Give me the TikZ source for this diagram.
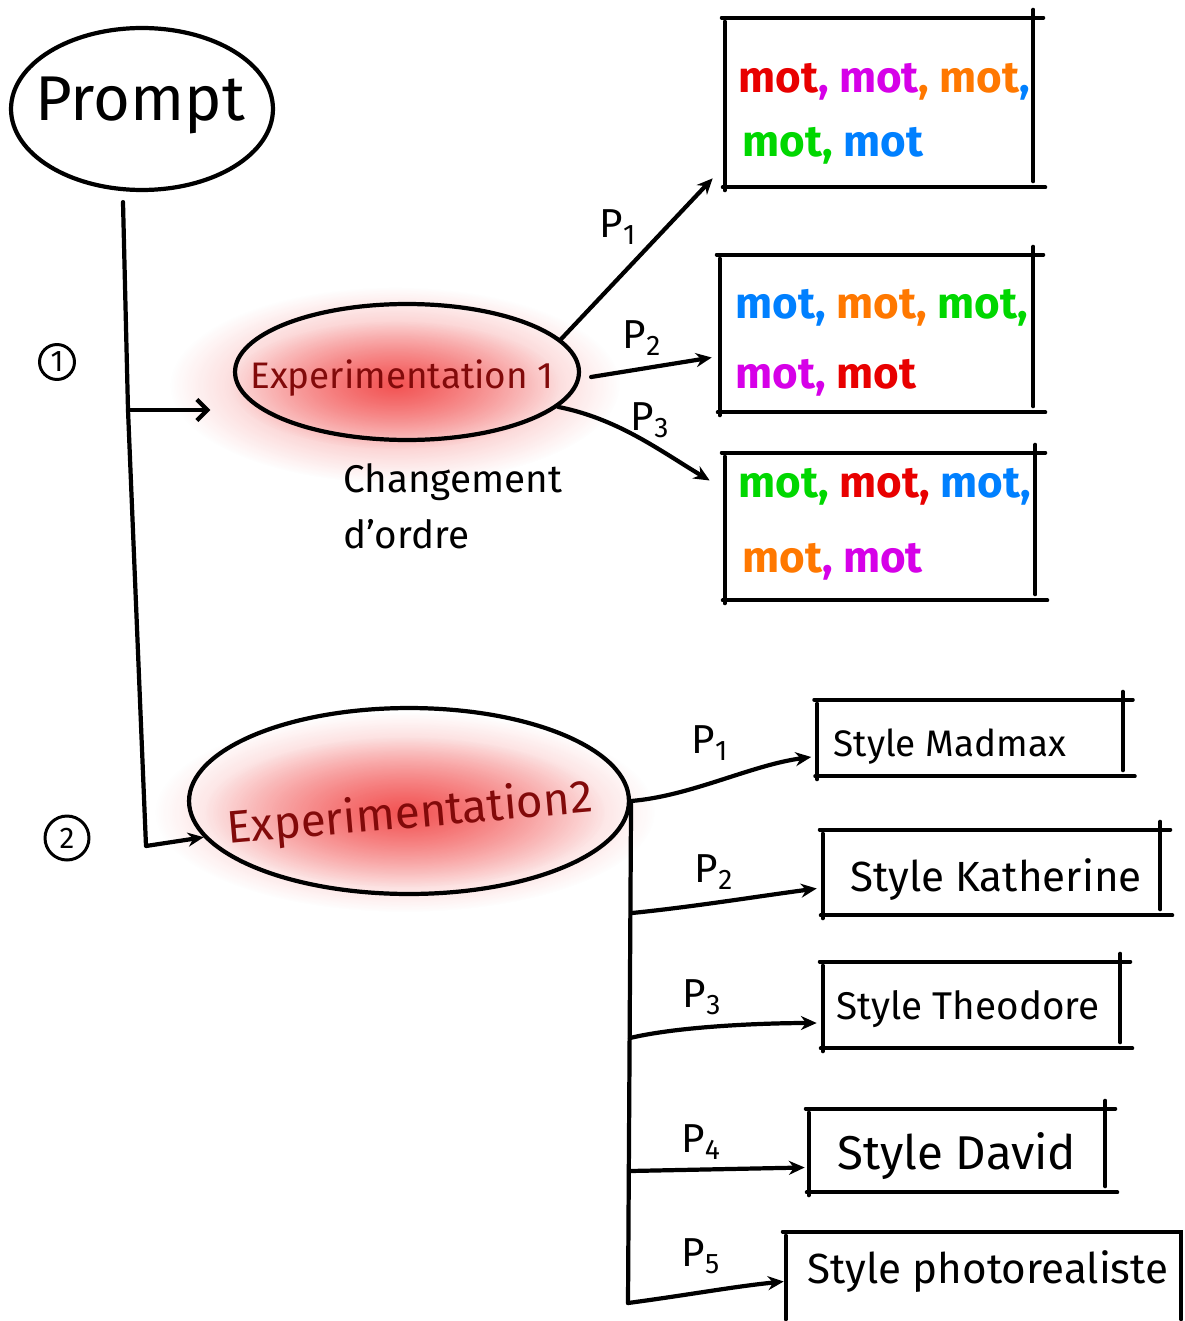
\documentclass[tikz,border=0pt]{standalone}
\usepackage{fontspec}
\setmainfont{Fira Sans}
\usetikzlibrary{arrows.meta,shapes.geometric,calc,fadings}

\definecolor{cred}{RGB}{232,0,0}
\definecolor{cmag}{RGB}{214,0,232}
\definecolor{corg}{RGB}{255,120,0}
\definecolor{cgrn}{RGB}{0,215,0}
\definecolor{cblu}{RGB}{0,128,255}
\definecolor{darkred}{RGB}{130,10,10}
\definecolor{glowred}{RGB}{240,40,40}

\tikzfading[name=glowfade, inner color=transparent!45, outer color=transparent!100]

% hand-drawn looking frame around a box node, lines slightly overshooting
\newcommand\sketchframe[1]{%
  \draw[boxline] ($(#1.north west)+(-3,0)$) -- ($(#1.north east)+(10,0)$)
    ($(#1.north east)+(0,-8)$) -- ($(#1.south east)+(0,-6)$)
    ($(#1.south east)+(12,0)$) -- ($(#1.south west)+(-2,0)$)
    ($(#1.south west)+(0,3)$) -- ($(#1.north west)+(0,4)$);}

\begin{document}
\begin{tikzpicture}[x=0.02cm, y=-0.02cm,
  ink/.style={line width=2.4pt, line cap=round, line join=round},
  boxline/.style={line width=2.2pt, line cap=round},
  arr/.style={ink, -{Stealth[length=9pt,width=8pt]}},
  openarr/.style={ink, -{Straight Barb[length=6pt,width=12pt]}},
  bubble/.style={ellipse, draw, line width=2.4pt, inner sep=0pt},
  wbox/.style={inner sep=0pt},
  word/.style={anchor=base west, inner sep=0pt, font=\fontsize{25}{30}\selectfont\bfseries},
  stxt/.style={anchor=base, inner sep=0pt},
  plabel/.style={inner sep=0pt, font=\fontsize{23}{26}\selectfont},
  num/.style={circle, draw, line width=1.7pt, inner sep=0pt, font=\fontsize{17}{18}\selectfont},
]
\fill[white] (0,0) rectangle (1184,1321);
\useasboundingbox (0,0) rectangle (1184,1321);

% red glows behind the two experiment bubbles
\fill[glowred, path fading=glowfade] (395,385) ellipse [x radius=225, y radius=98];
\fill[glowred, path fading=glowfade] (395,385) ellipse [x radius=165, y radius=64];
\fill[glowred, path fading=glowfade] (405,812) ellipse [x radius=250, y radius=100];
\fill[glowred, path fading=glowfade] (405,812) ellipse [x radius=200, y radius=75];

% main bubbles
\node[bubble, minimum width=5.24cm, minimum height=3.24cm] (prompt) at (142,109) {};
\node[inner sep=0pt, font=\fontsize{36}{40}\selectfont] (promptt) at (140,105) {Prompt};
\node[bubble, minimum width=6.88cm, minimum height=2.72cm] (e1) at (407,372) {};
\node[text=darkred, inner sep=0pt, font=\fontsize{21}{24}\selectfont] (e1t) at (402,378) {Experimentation 1};
\node[bubble, minimum width=8.8cm, minimum height=3.72cm] (e2) at (409,801) {};
\node[rotate=5, text=darkred, inner sep=0pt,
      font=\fontsize{26}{30}\selectfont] (e2t) at (410,815) {Experimentation2};

\node[font=\fontsize{22}{32}\selectfont, align=left, anchor=north west,
      inner sep=0pt] (chg) at (343,463) {Changement\\d'ordre};

% step numbers
\node[num, minimum size=0.7cm] (n1) at (57,362) {1};
\node[num, minimum size=0.88cm] (n2) at (67,838) {2};

% trunk from the prompt
\coordinate (j1) at (128,410);
\coordinate (j2) at (146,846);
\draw[arr] ($(prompt.south)+(-19,10)$) -- (j1) -- (j2) -- (e2.190);
\draw[openarr, shorten >=0.45cm] (j1) -- (j1 -| e1.west);

% word lists of experiment 1
\node[wbox, minimum width=6.16cm, minimum height=3.38cm] (b1) at (879,102.5) {};
\node[wbox, minimum width=6.26cm, minimum height=3.14cm] (b2) at (876.5,333.5) {};
\node[wbox, minimum width=6.2cm, minimum height=2.94cm] (b3) at (880,526.5) {};
\sketchframe{b1}
\sketchframe{b2}
\sketchframe{b3}

\node[word] (w1a) at (738,93) {\color{cred}mot\color{cmag}, mot\color{corg}, mot\color{cblu},};
\node[word] (w1b) at (742,157) {\color{cgrn}mot, \color{cblu}mot};
\node[word] (w2a) at (735,318) {\color{cblu}mot, \color{corg}mot, \color{cgrn}mot,};
\node[word] (w2b) at (735,388) {\color{cmag}mot, \color{cred}mot};
\node[word] (w3a) at (738,497) {\color{cgrn}mot, \color{cred}mot, \color{cblu}mot,};
\node[word] (w3b) at (742,572) {\color{corg}mot\color{cmag}, mot};

\draw[arr] (e1.12) -- ($(b1.south west)+(-12,-9)$);
\draw[arr] ($(e1.east)+(10,5)$) -- ($(b2.west)+(-8,24)$);
\draw[arr] (e1.-13) .. controls +(60,12) and +(-50,-30) .. ($(b3.west)+(-15,-46)$);
\node[plabel] (p11) at (618,227) {P\textsubscript{1}};
\node[plabel] (p12) at (642,338) {P\textsubscript{2}};
\node[plabel] (p13) at (650,420) {P\textsubscript{3}};

% styles of experiment 2
\node[wbox, minimum width=6.1cm, minimum height=1.52cm] (s1) at (970,738) {};
\node[wbox, minimum width=6.74cm, minimum height=1.7cm] (s2) at (991.5,872.5) {};
\node[wbox, minimum width=5.94cm, minimum height=1.72cm] (s3) at (971.5,1005) {};
\node[wbox, minimum width=5.92cm, minimum height=1.66cm] (s4) at (957,1150.5) {};
\node[wbox, minimum width=7.9cm, minimum height=1.74cm] (s5) at (983.5,1275.5) {};
\sketchframe{s1}
\sketchframe{s2}
\sketchframe{s3}
\sketchframe{s4}
\draw[boxline] ($(s5.north west)+(-3,0)$) -- (s5.north east) -- (s5.south east)
  (s5.south west) -- ($(s5.north west)+(0,4)$);

\node[stxt, font=\fontsize{21}{24}\selectfont] (s1t) at (950,756) {Style Madmax};
\node[stxt, font=\fontsize{24}{26}\selectfont] (s2t) at (996,891) {Style Katherine};
\node[stxt, font=\fontsize{22}{26}\selectfont] (s3t) at (968,1019) {Style Theodore};
\node[stxt, font=\fontsize{27}{30}\selectfont] (s4t) at (957,1169) {Style David};
\node[stxt, font=\fontsize{24}{26}\selectfont] (s5t) at (988,1283) {Style photorealiste};

\coordinate (t2) at (632,913);
\coordinate (t3) at (630,1038);
\coordinate (t4) at (630,1171);
\coordinate (t5) at (628,1303);
\draw[ink] (e2.east) -- (t5);
\draw[arr] (e2.east) .. controls +(60,-5) and +(-60,8) .. ($(s1.west)+(-6,19)$);
\draw[arr] (t2) .. controls +(60,-6) and +(-60,8) .. ($(s2.west)+(-6,16)$);
\draw[arr] (t3) .. controls +(50,-12) and +(-50,0) .. ($(s3.west)+(-6,18)$);
\draw[arr] (t4) -- ($(s4.west)+(-4,17)$);
\draw[arr] (t5) .. controls +(60,-8) and +(-50,5) .. ($(s5.west)+(-2,6)$);

\node[plabel] (p21) at (710,743) {P\textsubscript{1}};
\node[plabel] (p22) at (714,872) {P\textsubscript{2}};
\node[plabel] (p23) at (702,997) {P\textsubscript{3}};
\node[plabel] (p24) at (701,1142) {P\textsubscript{4}};
\node[plabel] (p25) at (701,1256) {P\textsubscript{5}};
\end{tikzpicture}
\end{document}
